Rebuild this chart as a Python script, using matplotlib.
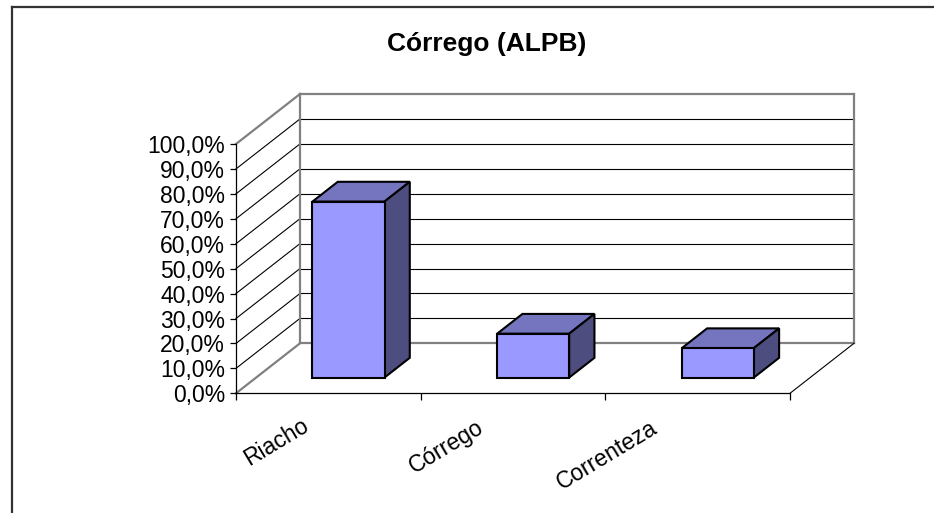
import matplotlib
matplotlib.use("Agg")
import matplotlib.pyplot as plt
import matplotlib.transforms as mtransforms
from matplotlib.patches import Polygon
from matplotlib.lines import Line2D
from matplotlib.ticker import FuncFormatter

plt.rcParams['font.family'] = ['Liberation Sans', 'DejaVu Sans']

# data
categories = ['Riacho', 'Córrego', 'Correnteza']
values = [70.6, 17.6, 11.8]
title = 'Córrego (ALPB)'

W, H = 934, 513
fig = plt.figure(figsize=(W / 100, H / 100), dpi=100)
fig.patch.set_facecolor('white')

# front plane of the 3d box, in pixels
x0, x1 = 236, 790
y0, y1 = 393.3, 144
ax = fig.add_axes([x0 / W, 1 - y0 / H, (x1 - x0) / W, (y0 - y1) / H])
ax.set_xlim(0, len(categories))
ax.set_ylim(0, 100)
ax.patch.set_visible(False)

# depth of the box in data units
px_x = (x1 - x0) / len(categories)
px_y = (y0 - y1) / 100
DX = 64 / px_x
DY = 50 / px_y

grey = '#808080'
gw = 0.8
bw = 1.6

# back wall + side wall gridlines
n = len(categories)
for k in range(0, 101, 10):
    c = grey if k in (0, 100) else 'black'
    lw = bw if k in (0, 100) else gw
    ax.add_line(Line2D([DX, n + DX], [k + DY, k + DY], color=c, lw=lw, clip_on=False, zorder=1))
    ax.add_line(Line2D([0, DX], [k, k + DY], color=c, lw=lw, clip_on=False, zorder=1))
for xx in (DX, n + DX):
    ax.add_line(Line2D([xx, xx], [DY, 100 + DY], color=grey, lw=bw, clip_on=False, zorder=1))
# floor right edge
ax.add_line(Line2D([n, n + DX], [0, DY], color='black', lw=gw, clip_on=False, zorder=1))

# bars
F, B = 0.315, 0.71
bar_w = 0.39
front_c, top_c, side_c = '#9999FF', '#7474BF', '#4D4D80'
xs = [i + 0.5 + F * DX for i in range(n)]
ax.bar(xs, values, width=bar_w, bottom=F * DY, color=front_c,
       edgecolor='black', linewidth=1.5, zorder=3, clip_on=False)
ddx, ddy = (B - F) * DX, (B - F) * DY
for x, v in zip(xs, values):
    xl, xr = x - bar_w / 2, x + bar_w / 2
    yb, yt = F * DY, F * DY + v
    top = Polygon([(xl, yt), (xr, yt), (xr + ddx, yt + ddy), (xl + ddx, yt + ddy)],
                  closed=True, fc=top_c, ec='black', lw=1.5, zorder=2, clip_on=False)
    side = Polygon([(xr, yb), (xr + ddx, yb + ddy), (xr + ddx, yt + ddy), (xr, yt)],
                   closed=True, fc=side_c, ec='black', lw=1.5, zorder=2, clip_on=False)
    ax.add_patch(top)
    ax.add_patch(side)

# axes
for s in ('top', 'right'):
    ax.spines[s].set_visible(False)
for s in ('left', 'bottom'):
    ax.spines[s].set_linewidth(0.9)
    ax.spines[s].set_zorder(4)
ax.set_yticks(range(0, 101, 10))
ax.yaxis.set_major_formatter(FuncFormatter(lambda v, p: f'{v:.1f}%'.replace('.', ',')))
ax.tick_params(axis='y', direction='out', length=4, width=0.9, pad=4, labelsize=16.5)
ax.set_xticks(range(n + 1))
ax.set_xticklabels([])
ax.tick_params(axis='x', direction='out', length=5, width=0.9)

for i, lab in enumerate(categories):
    tr = mtransforms.offset_copy(ax.transData, fig=fig, x=-27 - 10.5 * i, y=-21 - 1 * i, units='dots')
    ax.text(i + 0.5, 0, lab, transform=tr, rotation=31, rotation_mode='anchor',
            ha='right', va='top', fontsize=16.5)

fig.text(487 / W, 1 - 51 / H, title, ha='center', va='baseline',
         fontsize=19, fontweight='bold')

# outer chart frame (only top and left are visible)
fig.add_artist(Line2D([11.5 / W, 1], [1 - 7 / H, 1 - 7 / H], transform=fig.transFigure,
                      color='#333333', lw=1.6))
fig.add_artist(Line2D([11.5 / W, 11.5 / W], [0, 1 - 7 / H], transform=fig.transFigure,
                      color='#333333', lw=1.6))

fig.savefig('out.png', dpi=100)
